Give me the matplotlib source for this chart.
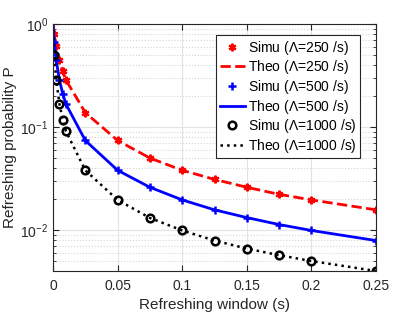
import matplotlib.pyplot as plt
from matplotlib.ticker import LogLocator, NullFormatter

plt.rcParams['font.family'] = ['Liberation Sans', 'DejaVu Sans']
plt.rcParams['mathtext.fontset'] = 'custom'
plt.rcParams['mathtext.rm'] = 'Liberation Sans'

# refreshing window (s)
t_simu = [0.001, 0.0025, 0.005, 0.0075, 0.01, 0.025, 0.05, 0.075, 0.1,
          0.125, 0.15, 0.175, 0.2, 0.25]
t_theo = [0.0] + t_simu

# simulated refreshing probability
simu_250 = [0.80, 0.615, 0.445, 0.348, 0.286, 0.138, 0.074, 0.050, 0.038,
            0.031, 0.026, 0.0223, 0.0196, 0.0158]
simu_500 = [0.67, 0.445, 0.286, 0.21, 0.167, 0.074, 0.038, 0.026, 0.0196,
            0.0158, 0.0132, 0.0113, 0.0099, 0.0079]
simu_1000 = [0.50, 0.286, 0.167, 0.118, 0.091, 0.038, 0.0196, 0.0132,
             0.0099, 0.0079, 0.0066, 0.0057, 0.0050, 0.0040]

# theoretical refreshing probability
theo_250 = [1.0, 0.80, 0.615, 0.444, 0.348, 0.286, 0.138, 0.074, 0.050,
            0.038, 0.031, 0.026, 0.0222, 0.0196, 0.0157]
theo_500 = [1.0, 0.667, 0.444, 0.286, 0.211, 0.167, 0.074, 0.038, 0.026,
            0.0196, 0.0157, 0.0132, 0.0113, 0.0099, 0.0079]
theo_1000 = [1.0, 0.50, 0.286, 0.167, 0.118, 0.091, 0.038, 0.0196, 0.0131,
             0.0099, 0.0079, 0.0066, 0.0057, 0.0050, 0.0040]

fig = plt.figure(figsize=(4.15, 3.17), dpi=100)
ax = fig.add_axes([53 / 415, 1 - 271 / 317, 323 / 415, 247 / 317])

ax.plot(t_simu, simu_250, linestyle='none', marker=(6, 2, 0), color='red',
        markersize=5.5, markeredgewidth=1.6, label='Simu ($\\Lambda$=250 /s)')
ax.plot(t_theo, theo_250, '--', color='red', linewidth=2,
        label='Theo ($\\Lambda$=250 /s)')
ax.plot(t_simu, simu_500, linestyle='none', marker='+', color='blue',
        markersize=6, markeredgewidth=1.8, label='Simu ($\\Lambda$=500 /s)')
ax.plot(t_theo, theo_500, '-', color='blue', linewidth=2,
        label='Theo ($\\Lambda$=500 /s)')
ax.plot(t_simu, simu_1000, linestyle='none', marker='o', color='black',
        markerfacecolor='none', markersize=5.5, markeredgewidth=1.8,
        label='Simu ($\\Lambda$=1000 /s)')
ax.plot(t_theo, theo_1000, ':', color='black', linewidth=1.8,
        label='Theo ($\\Lambda$=1000 /s)')

ax.set_yscale('log')
ax.set_xlim(0, 0.25)
ax.set_ylim(0.004, 1)
ax.set_xticks([0, 0.05, 0.1, 0.15, 0.2, 0.25])
ax.set_xticklabels(['0', '0.05', '0.1', '0.15', '0.2', '0.25'])
ax.yaxis.set_minor_locator(LogLocator(base=10, subs=range(2, 10)))
ax.yaxis.set_minor_formatter(NullFormatter())

ax.grid(True, which='major', color='#e3e3e3', linewidth=0.8)
ax.grid(True, which='minor', axis='y', color='#d5d5d5', linestyle=':', linewidth=0.8)
ax.set_axisbelow(True)
ax.tick_params(which='both', direction='in', top=True, right=True,
               labelsize=10, colors='#262626')
ax.tick_params(which='major', length=4)
ax.tick_params(which='minor', length=2)
ax.tick_params(axis='x', pad=6)
for s in ax.spines.values():
    s.set_color('#262626')
    s.set_linewidth(0.8)

ax.set_xlabel('Refreshing window (s)', fontsize=11, color='#262626', labelpad=3)
ax.set_ylabel('Refreshing probability P', fontsize=11, color='#262626', labelpad=2)

leg = ax.legend(loc='upper right', fontsize=10, fancybox=False,
                edgecolor='#262626', framealpha=1, borderpad=0.25,
                handlelength=1.8, handletextpad=0.2, labelspacing=0.12,
                borderaxespad=0.0, bbox_to_anchor=(0.95, 0.955))
leg.get_frame().set_linewidth(0.8)

fig.savefig('out.png', dpi=100)
